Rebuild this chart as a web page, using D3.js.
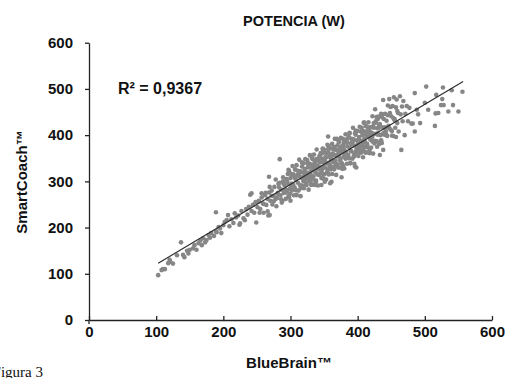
<!DOCTYPE html>
<html>
<head>
<meta charset="utf-8">
<script src="https://cdn.jsdelivr.net/npm/d3@7/dist/d3.min.js"></script>
<style>
  body { margin: 0; background: #fff; }
  svg text { font-family: 'Liberation Sans', Arial, sans-serif; font-weight: bold; fill: #111; }
  .note { font-family: 'Liberation Serif', 'Times New Roman', serif !important; font-weight: normal !important; }
</style>
</head>
<body>
<div id="chart"></div>
<script>
// axis ticks
const xTicks = [0, 100, 200, 300, 400, 500, 600];
const yTicks = [0, 100, 200, 300, 400, 500, 600];

// trend line (y = a*x + b)
const trendSlope = 0.866;
const trendIntercept = 33.5;
const trendRange = [103, 557];
const rSquared = '0,9367';

// BlueBrain (x) vs SmartCoach (y), watts
const lowPoints = [
  [103,97],[108,108],[110,110],[113,110],[118,123],[120,130],[121,126],[125,122],[131,140],[137,168],
  [140,141],[142,136],[146,150],[148,144],[150,152],[155,155],[157,162],[160,152],[163,166],[166,172],
  [168,162],[170,177],[173,168],[175,173],[178,184],[180,178],[182,188],[186,182],[189,233],[189,192],
  [190,190],[193,201],[195,198],[197,188],[200,205],[202,212],[205,216],[207,227],[209,203],[212,218],
  [215,210],[217,231],[219,222],[222,226],[224,206],[225,209],[227,236],[230,220],[232,216],[234,240],
  [236,228],[238,245],[240,271],[242,274],[242,236],[244,249],[246,232],[248,255],[249,211],[251,244],
  [253,258],[255,240],[257,265],[259,252],[260,232],[262,270],[264,249],[266,262],[267,226],[268,276],
  [268,310],[269,227],[270,258],[272,280],[273,250],[275,268],[276,288],[278,262],[279,246],[281,275],
  [282,295],[284,348],[285,270],[286,282],[288,258],[289,300],[290,275],[291,292],[293,262],[294,305],
  [295,281],[251,256],[254,232],[257,274],[260,251],[263,275],[266,235],[269,288],[272,269],[275,257],
  [278,304],[281,273],[284,297],[287,254],[290,294],[293,276],[296,316],[299,273],[280,264],[283,287],
  [286,261],[289,309],[292,283],[295,301],[298,265]
];

const midPoints = [
  [296,295],[297,268],[297,325],[298,322],[299,284],[300,307],[300,258],[301,316],[302,295],[302,280],
  [303,333],[304,293],[304,315],[305,270],[306,308],[306,287],[307,325],[308,281],[308,303],[309,335],
  [309,270],[310,314],[311,297],[311,323],[312,280],[313,311],[313,347],[314,292],[315,322],[315,268],
  [316,308],[317,332],[317,291],[318,319],[319,308],[319,339],[320,285],[321,327],[321,302],[322,348],
  [323,293],[323,318],[324,292],[325,346],[325,307],[326,330],[327,282],[327,339],[328,318],[329,303],
  [329,356],[330,315],[330,337],[331,292],[332,330],[332,310],[333,348],[334,304],[334,326],[335,358],
  [335,293],[336,337],[337,319],[337,345],[338,302],[339,334],[339,369],[340,315],[341,345],[341,291],
  [342,331],[343,354],[343,314],[344,341],[345,330],[345,361],[346,307],[346,292],[347,349],[347,325],
  [348,371],[349,316],[349,341],[350,315],[350,368],[351,330],[351,299],[352,352],[353,304],[353,361],
  [354,340],[355,326],[355,379],[356,397],[356,338],[357,361],[357,315],[358,353],[359,333],[359,296],
  [360,371],[360,326],[361,349],[361,299],[362,381],[362,316],[363,360],[364,343],[364,369],[365,326],
  [366,357],[366,392],[367,338],[368,368],[368,314],[369,354],[370,378],[370,337],[371,365],[372,354],
  [372,385],[373,330],[374,372],[374,348],[375,394],[376,339],[376,309],[377,365],[377,338],[378,392],
  [379,353],[379,376],[380,328],[380,385],[381,363],[382,349],[382,402],[383,361],[384,384],[384,338],
  [385,376],[386,357],[386,394],[387,350],[388,372],[388,404],[389,339],[390,383],[390,365],[391,392],
  [392,349],[392,380],[393,416],[394,362],[394,391],[395,338],[396,377],[396,332],[397,401],[398,361],
  [398,330],[399,389],[400,378],[400,409],[401,355],[402,396],[402,373],[403,418],[404,363],[404,388],
  [405,362],[406,416],[406,377],[407,400],[408,352],[408,409],[409,388],[410,374],[410,427],[411,385],
  [412,408],[412,362],[413,400],[414,381],[414,418],[415,374],[416,397],[416,428],[417,364],[418,407],
  [418,361],[419,390],[420,417],[420,373],[421,405],[422,441],[422,386],[423,360],[424,416],[425,382],
  [426,456],[426,403],[427,427],[428,387],[429,415],[430,404],[430,435],[431,440],[432,381],[433,357],
  [433,424],[434,400],[435,446],[436,383],[437,417],[438,476],[438,368],[439,435],[440,401],[441,446],
  [442,408],[443,431],[444,398],[445,464],[446,420],[447,478],[448,448],[449,412],[450,441],[451,409],
  [452,463],[453,398],[454,482],[455,435],[456,416],[457,460],[458,477],[459,426],[460,448],[461,408],
  [463,484],[464,445],[465,368],[466,462],[467,430],[468,474],[470,400],[471,446],[473,463],[475,430],
  [477,459],[480,425]
];

const densePoints = [
  [301,291],[303,315],[305,284],[307,326],[309,271],[311,311],[313,318],[315,285],[317,341],[319,301],
  [321,314],[323,296],[325,339],[327,311],[329,357],[331,295],[333,333],[335,328],[337,292],[339,348],
  [341,326],[343,350],[345,318],[347,361],[349,306],[351,346],[353,352],[355,320],[357,376],[359,335],
  [361,348],[363,331],[365,374],[367,345],[369,392],[371,330],[373,368],[375,362],[377,327],[379,383],
  [381,360],[383,384],[385,353],[387,396],[389,340],[391,380],[393,387],[395,355],[397,410],[399,370],
  [401,383],[403,366],[405,408],[407,380],[409,427],[411,364],[413,402],[415,397],[417,362],[419,417],
  [421,395],[423,419],[425,388],[427,430],[429,375],[431,415],[433,422],[435,389],[437,445],[439,405],
  [441,417],[443,400],[445,443],[447,415],[449,461],[451,399],[453,437],[455,432],[457,396],[459,452],
  [322,322],[324,307],[326,338],[328,300],[330,322],[332,351],[334,311],[336,341],[338,299],[340,334],
  [342,329],[344,356],[346,318],[348,370],[350,332],[352,351],[354,318],[356,370],[358,334],[360,345],
  [362,357],[364,342],[366,372],[368,334],[370,357],[372,386],[374,345],[376,376],[378,334],[380,369],
  [382,363],[384,391],[386,353],[388,405],[390,366],[392,386],[394,353],[396,404],[398,368],[400,380],
  [402,392],[404,376],[406,407],[408,369],[410,392],[412,420],[414,380],[416,411],[418,369],[420,403],
  [422,398],[424,426],[426,387],[428,439],[430,401],[432,421],[434,387],[436,439],[438,403],[440,415]
];

const highPoints = [
  [482,425],[485,491],[485,408],[488,455],[490,445],[493,426],[500,470],[502,505],[505,455],[515,420],
  [516,447],[517,487],[520,448],[524,465],[526,478],[527,503],[528,465],[535,451],[540,497],[542,465],
  [550,451],[556,494]
];

const points = lowPoints.concat(midPoints, densePoints, highPoints);

const W = 511, H = 378;
const svg = d3.select('#chart').append('svg')
    .attr('width', W).attr('height', H);

const x = d3.scaleLinear().domain([0, 600]).range([89, 492]);
const y = d3.scaleLinear().domain([0, 600]).range([320, 42.7]);

// dots
svg.append('g')
    .selectAll('circle')
    .data(points)
    .enter()
    .append('circle')
    .attr('cx', d => x(d[0]))
    .attr('cy', d => y(d[1]))
    .attr('r', 2.3)
    .attr('fill', '#868686');

// trend line
svg.append('line')
    .attr('x1', x(trendRange[0]))
    .attr('y1', y(trendSlope * trendRange[0] + trendIntercept))
    .attr('x2', x(trendRange[1]))
    .attr('y2', y(trendSlope * trendRange[1] + trendIntercept))
    .attr('stroke', '#2a2a2a')
    .attr('stroke-width', 1.1);

// x axis, ticks pointing up
const xAxis = svg.append('g')
    .attr('transform', 'translate(0,320)')
    .call(d3.axisBottom(x).tickValues(xTicks).tickSizeInner(-4).tickSizeOuter(0).tickPadding(6));

// y axis
const yAxis = svg.append('g')
    .attr('transform', 'translate(89,0)')
    .call(d3.axisLeft(y).tickValues(yTicks).tickSizeInner(4).tickSizeOuter(0).tickPadding(12));

[xAxis, yAxis].forEach(g => {
    g.selectAll('path.domain').attr('stroke', '#222').attr('stroke-width', 1.3);
    g.selectAll('.tick line').attr('stroke', '#222').attr('stroke-width', 1.3);
    g.selectAll('.tick text')
        .attr('fill', '#111')
        .style('font-size', '15px')
        .style('font-weight', 'bold')
        .style('font-family', "'Liberation Sans', Arial, sans-serif");
});

// y axis runs a little below the x axis
svg.append('line')
    .attr('x1', 89).attr('x2', 89)
    .attr('y1', 320).attr('y2', 324)
    .attr('stroke', '#222').attr('stroke-width', 1.3);

// titles
svg.append('text')
    .attr('x', 294).attr('y', 26)
    .attr('text-anchor', 'middle')
    .style('font-size', '14.5px')
    .text('POTENCIA (W)');

svg.append('text')
    .attr('x', 118).attr('y', 94)
    .style('font-size', '16px')
    .text('R\u00B2 = ' + rSquared);

svg.append('text')
    .attr('transform', 'translate(27,182) rotate(-90)')
    .attr('text-anchor', 'middle')
    .style('font-size', '15px')
    .text('SmartCoach\u2122');

svg.append('text')
    .attr('x', 289).attr('y', 368)
    .attr('text-anchor', 'middle')
    .style('font-size', '15px')
    .text('BlueBrain\u2122');

// caption is cut off at the left edge, as in the source scan
svg.append('text')
    .attr('class', 'note')
    .attr('x', 43).attr('y', 377)
    .attr('text-anchor', 'end')
    .style('font-size', '15px')
    .text('Figura 3');
</script>
</body>
</html>
